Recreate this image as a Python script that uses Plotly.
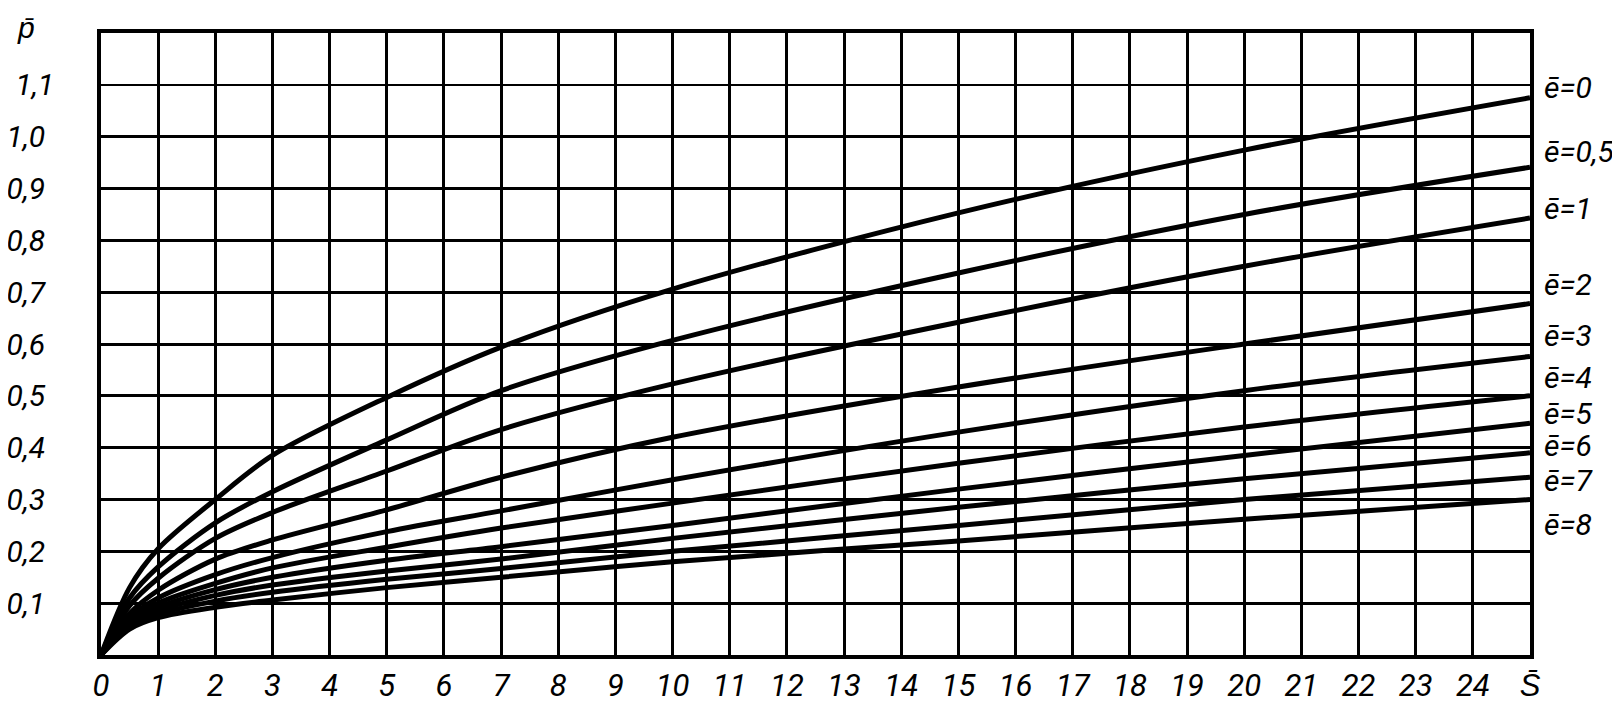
import plotly.graph_objects as go

s_vals = [0, 0.5, 1, 2, 3, 5, 7, 10, 15, 20, 25]

# p-bar for each e-bar value
e_names = ["0", "0,5", "1", "2", "3", "4", "5", "6", "7", "8"]
p_e0 = [0, 0.13, 0.205, 0.30, 0.385, 0.497, 0.594, 0.706, 0.853, 0.974, 1.075]
p_e05 = [0, 0.11, 0.17, 0.255, 0.315, 0.415, 0.51, 0.607, 0.737, 0.85, 0.941]
p_e1 = [0, 0.095, 0.148, 0.225, 0.275, 0.355, 0.435, 0.523, 0.642, 0.75, 0.843]
p_e2 = [0, 0.08, 0.125, 0.185, 0.222, 0.28, 0.343, 0.42, 0.517, 0.60, 0.678]
p_e3 = [0, 0.072, 0.11, 0.155, 0.188, 0.238, 0.278, 0.338, 0.43, 0.51, 0.576]
p_e4 = [0, 0.066, 0.10, 0.138, 0.168, 0.208, 0.245, 0.293, 0.37, 0.44, 0.50]
p_e5 = [0, 0.062, 0.092, 0.126, 0.15, 0.183, 0.209, 0.25, 0.32, 0.385, 0.447]
p_e6 = [0, 0.058, 0.085, 0.115, 0.135, 0.162, 0.185, 0.225, 0.285, 0.34, 0.39]
p_e7 = [0, 0.055, 0.079, 0.104, 0.121, 0.146, 0.167, 0.20, 0.25, 0.30, 0.343]
p_e8 = [0, 0.05, 0.072, 0.092, 0.106, 0.13, 0.15, 0.18, 0.22, 0.262, 0.30]
curves = [p_e0, p_e05, p_e1, p_e2, p_e3, p_e4, p_e5, p_e6, p_e7, p_e8]

# tick labels
x_ticks = list(range(26))
x_labels = [str(i) for i in range(25)] + ["S\u0304"]
y_ticks = [0.1, 0.2, 0.3, 0.4, 0.5, 0.6, 0.7, 0.8, 0.9, 1.0]
y_labels = ["0,1", "0,2", "0,3", "0,4", "0,5", "0,6", "0,7", "0,8", "0,9", "1,0"]
y_thin_tick = [1.1]
y_thin_label = ["1,1"]

FONT = "Roboto, Liberation Sans, sans-serif"
label_shift = [10, 16, 10, 19, 21, 18, 10, 7, -3, -25]
x_tick_font = dict(family=FONT, size=31, color='black', style='italic')
y_tick_font = dict(family=FONT, size=30, color='black', style='italic')

fig = go.Figure()

for name, ys in zip(e_names, curves):
    fig.add_trace(go.Scatter(
        x=s_vals, y=ys,
        mode='lines',
        line=dict(color='black', width=5, shape='spline', smoothing=0.9),
        name='e=' + name,
        hoverinfo='skip'
    ))

# empty trace so the thin 1,1 gridline axis gets drawn
fig.add_trace(go.Scatter(x=[], y=[], yaxis='y2', hoverinfo='skip'))

# labels at the right end of each curve
for name, ys, dy in zip(e_names, curves, label_shift):
    fig.add_annotation(
        x=s_vals[-1], y=ys[-1], xref='x', yref='y',
        text='\u0113=' + name, showarrow=False,
        xanchor='left', yanchor='middle', xshift=12, yshift=dy,
        font=dict(family=FONT, size=30, color='black', style='italic')
    )

fig.add_annotation(
    x=0, y=1, xref='paper', yref='paper',
    text='p\u0304', showarrow=False,
    xanchor='center', yanchor='middle', xshift=-75, yshift=6,
    font=dict(family=FONT, size=30, color='black', style='italic')
)

fig.update_layout(
    width=1620, height=703,
    margin=dict(l=93, r=98, t=25, b=56),
    plot_bgcolor='white', paper_bgcolor='white',
    showlegend=False,
    xaxis=dict(
        range=[0, 25], tickmode='array', tickvals=x_ticks, ticktext=x_labels,
        showgrid=True, gridcolor='black', gridwidth=3,
        showline=True, linecolor='black', linewidth=4, mirror=True,
        zeroline=False, ticks='', ticklabelstandoff=0, tickfont=x_tick_font,
        automargin=False,
    ),
    yaxis=dict(
        range=[0, 1.2], tickmode='array', tickvals=y_ticks, ticktext=y_labels,
        showgrid=True, gridcolor='black', gridwidth=3,
        showline=True, linecolor='black', linewidth=4, mirror=True,
        zeroline=False, ticks='', ticklabelstandoff=46, tickfont=y_tick_font,
        automargin=False,
    ),
    yaxis2=dict(
        range=[0, 1.2], overlaying='y', side='left',
        tickmode='array', tickvals=y_thin_tick, ticktext=y_thin_label,
        showgrid=True, gridcolor='black', gridwidth=1.5,
        showline=False, zeroline=False, ticks='', ticklabelstandoff=46,
        tickfont=y_tick_font, automargin=False,
    ),
)

fig.write_html("out.html")
